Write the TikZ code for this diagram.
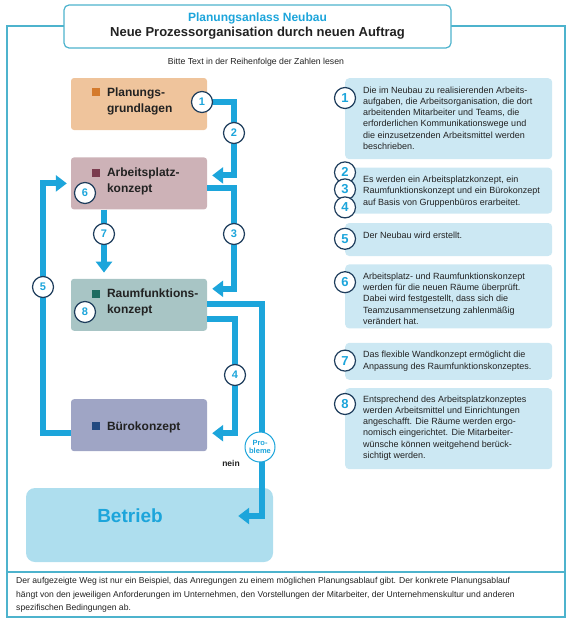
\documentclass[tikz,border=0pt]{standalone}
\usepackage{fontspec}
\setmainfont{Liberation Sans}
\usetikzlibrary{arrows.meta,positioning}
\definecolor{bkcyan}{HTML}{1CA5DB}
\definecolor{bknavy}{HTML}{1E3D5C}
\definecolor{frameline}{HTML}{4DB3CD}
\definecolor{infobg}{HTML}{CCE8F3}
\definecolor{txtdark}{HTML}{222222}
\definecolor{planbg}{HTML}{EFC49C}
\definecolor{planmk}{HTML}{D47A2C}
\definecolor{arbbg}{HTML}{CDB2B7}
\definecolor{arbmk}{HTML}{7B3C4F}
\definecolor{raumbg}{HTML}{A8C5C5}
\definecolor{raummk}{HTML}{1E6C61}
\definecolor{buerobg}{HTML}{9FA5C5}
\definecolor{bueromk}{HTML}{234A80}
\definecolor{betriebbg}{HTML}{AEDEEE}
\newcommand{\mk}[1]{\llap{\textcolor{#1}{\rule{8pt}{8pt}}\hspace{7pt}}}

\begin{document}
\begin{tikzpicture}[x=1pt,y=-1pt,
    box/.style={rounded corners=3pt,minimum width=136pt,minimum height=52pt,inner sep=0pt},
    lbl/.style={anchor=west,align=left,inner sep=0pt,text=txtdark,
      font=\fontsize{12}{16}\selectfont\bfseries},
    info/.style={fill=infobg,rounded corners=4pt,minimum width=207pt,inner sep=0pt},
    infotxt/.style={anchor=north west,align=left,inner sep=0pt,text=txtdark,
      font=\fontsize{9}{11.2}\selectfont},
    num/.style={circle,draw=bknavy,line width=1.2pt,fill=white,minimum size=21pt,inner sep=0pt,
      text=bkcyan,font=\fontsize{11}{11}\selectfont\bfseries},
    bignum/.style={num,font=\fontsize{13}{13}\selectfont\bfseries},
    prob/.style={circle,draw=bkcyan,line width=1pt,fill=white,minimum size=30pt,inner sep=0pt,
      align=center,text=bkcyan,font=\fontsize{7.5}{8.5}\selectfont\bfseries},
    a/.style={line width=6pt,bkcyan,-{Triangle[length=11pt,width=16pt]}},
    frame/.style={draw=frameline,line width=1.2pt}]
    \useasboundingbox (0,0) rectangle (570,621);
    % outer frame
    \draw[frame] (7,26) rectangle (565,617);
    \draw[frame] (7,572) -- (565,572);
    \node[frame,fill=white,rounded corners=5pt,minimum width=387pt,minimum height=43pt,align=center,
      text=txtdark,font=\fontsize{13}{15}\selectfont\bfseries] (title) at (257.5,26.5)
      {{\fontsize{12}{15}\selectfont\color{bkcyan}Planungsanlass Neubau}\\Neue Prozessorganisation durch neuen Auftrag};
    \node[text=txtdark,font=\fontsize{8.7}{10}\selectfont] (hint) at (256,62) {Bitte Text in der Reihenfolge der Zahlen lesen};
    % left column
    \node[box,fill=planbg] (plan) at (139,104) {};
    \node[box,fill=arbbg,below=27pt of plan] (arb) {};
    \node[box,fill=raumbg,below=69pt of arb] (raum) {};
    \node[box,fill=buerobg,below=68pt of raum] (buero) {};
    \node[box,fill=betriebbg,minimum width=247pt,minimum height=74pt,rounded corners=9pt] (betrieb) at (149.5,525) {};
    \node[lbl] (planlbl) at ([xshift=36pt,yshift=3pt]plan.west) {\mk{planmk}Planungs-\\grundlagen};
    \node[lbl] (arblbl) at ([xshift=36pt,yshift=2pt]arb.west) {\mk{arbmk}Arbeitsplatz-\\konzept};
    \node[lbl] (raumlbl) at ([xshift=36pt,yshift=2pt]raum.west) {\mk{raummk}Raumfunktions-\\konzept};
    \node[lbl] (buerolbl) at ([xshift=36pt,yshift=-2pt]buero.west) {\mk{bueromk}Bürokonzept};
    \node[text=bkcyan,font=\fontsize{19}{19}\selectfont\bfseries] (betriebtxt) at (130,516) {Betrieb};
    % arrows
    \draw[a] ([yshift=2pt]plan.east) -- ++(27,0) |- ([xshift=5pt,yshift=8pt]arb.east);
    \draw[a] ([yshift=-5pt]arb.east) -- ++(27,0) |- ([xshift=5pt,yshift=16pt]raum.east);
    \draw[a] ([yshift=-14pt]raum.east) -- ++(28,0) |- ([xshift=5pt,yshift=-8pt]buero.east);
    \draw[a] ([yshift=1pt]raum.east) -- ++(55,0) |- ([xshift=-35pt,yshift=9pt]betrieb.east);
    \draw[a] ([yshift=-8pt]buero.west) -- ++(-28,0) |- ([xshift=-4pt]arb.west);
    \draw[a] ([xshift=-35pt]arb.south) -- ([xshift=-35pt,yshift=6pt]raum.north);
    \node[num] (n1) at (202,102) {1};
    \node[num] (n2) at (234,133) {2};
    \node[num] (n3) at (234,234) {3};
    \node[num] (n4) at (235,375) {4};
    \node[num] (n5) at (43,287) {5};
    \node[num] (n6) at (85,193) {6};
    \node[num] (n7) at (104,234) {7};
    \node[num] (n8) at (85,312) {8};
    \node[prob] (probleme) at (260,447) {Pro-\\bleme};
    \node[text=txtdark,font=\fontsize{8.5}{8.5}\selectfont\bfseries] (nein) at (231,463) {nein};
    % right column
    \node[info,anchor=north west,minimum height=81pt] (i1) at (345,78) {};
    \node[info,minimum height=46pt,below=8pt of i1] (i2) {};
    \node[info,minimum height=33pt,below=9pt of i2] (i5) {};
    \node[info,minimum height=64pt,below=8pt of i5] (i6) {};
    \node[info,minimum height=37pt,below=14pt of i6] (i7) {};
    \node[info,minimum height=81pt,below=8pt of i7] (i8) {};
    \node[infotxt] (t1) at ([xshift=18pt,yshift=-8.5pt]i1.north west) {Die im Neubau zu realisierenden Arbeits-\\
      aufgaben, die Arbeitsorganisation, die dort\\arbeitenden Mitarbeiter und Teams, die\\
      erforderlichen Kommunikationswege und\\die einzusetzenden Arbeitsmittel werden\\beschrieben.};
    \node[infotxt] (t2) at ([xshift=18pt,yshift=-8.5pt]i2.north west) {Es werden ein Arbeitsplatzkonzept, ein\\
      Raumfunktionskonzept und ein Bürokonzept\\auf Basis von Gruppenbüros erarbeitet.};
    \node[infotxt] (t5) at ([xshift=18pt,yshift=-8.5pt]i5.north west) {Der Neubau wird erstellt.};
    \node[infotxt] (t6) at ([xshift=18pt,yshift=-8.5pt]i6.north west) {Arbeitsplatz- und Raumfunktionskonzept\\
      werden für die neuen Räume überprüft.\\Dabei wird festgestellt, dass sich die\\
      Teamzusammensetzung zahlenmäßig\\verändert hat.};
    \node[infotxt] (t7) at ([xshift=18pt,yshift=-8.5pt]i7.north west) {Das flexible Wandkonzept ermöglicht die\\
      Anpassung des Raumfunktionskonzeptes.};
    \node[infotxt] (t8) at ([xshift=18pt,yshift=-7.5pt]i8.north west) {Entsprechend des Arbeitsplatzkonzeptes\\
      werden Arbeitsmittel und Einrichtungen\\angeschafft. Die Räume werden ergo-\\
      nomisch eingerichtet. Die Mitarbeiter-\\wünsche können weitgehend berück-\\sichtigt werden.};
    \node[bignum] (r1) at ([yshift=-20pt]i1.north west) {1};
    \node[bignum] (r2) at ([yshift=-5pt]i2.north west) {2};
    \node[bignum] (r3) at ([yshift=-22pt]i2.north west) {3};
    \node[bignum] (r4) at ([yshift=-40pt]i2.north west) {4};
    \node[bignum] (r5) at ([yshift=-16pt]i5.north west) {5};
    \node[bignum] (r6) at ([yshift=-18pt]i6.north west) {6};
    \node[bignum] (r7) at ([yshift=-18pt]i7.north west) {7};
    \node[bignum] (r8) at ([yshift=-16pt]i8.north west) {8};
    % footer
    \node[anchor=north west,align=left,inner sep=0pt,text=txtdark,font=\fontsize{8.6}{13.5}\selectfont] (note) at (16,577.5)
      {Der aufgezeigte Weg ist nur ein Beispiel, das Anregungen zu einem möglichen Planungsablauf gibt. Der konkrete Planungsablauf\\
      hängt von den jeweiligen Anforderungen im Unternehmen, den Vorstellungen der Mitarbeiter, der Unternehmenskultur und anderen\\
      spezifischen Bedingungen ab.};
  \end{tikzpicture}
\end{document}
